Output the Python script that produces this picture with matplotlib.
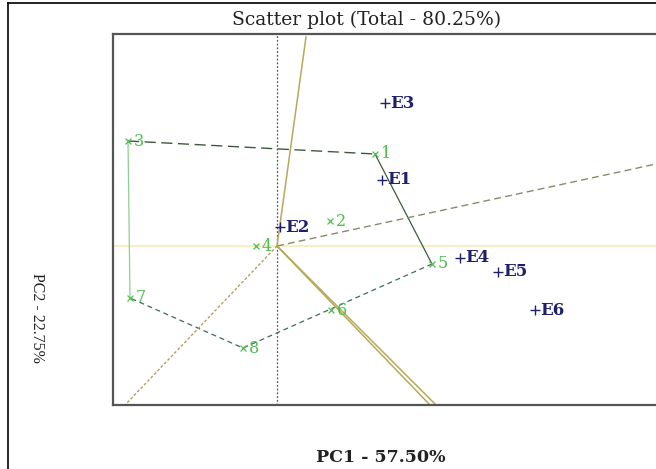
import matplotlib.pyplot as plt
from matplotlib.lines import Line2D

# genotype scores (PC1, PC2)
gen_labels = ['1', '2', '3', '4', '5', '6', '7', '8']
gen_pc1 = [1.96, 1.06, -2.98, -0.42, 3.10, 1.08, -2.94, -0.68]
gen_pc2 = [1.84, 0.50, 2.10, 0.00, -0.36, -1.28, -1.04, -2.04]

# environment scores
env_labels = ['E1', 'E2', 'E3', 'E4', 'E5', 'E6']
env_pc1 = [2.10, 0.06, 2.16, 3.66, 4.42, 5.16]
env_pc2 = [1.32, 0.38, 2.86, -0.24, -0.52, -1.28]

# polygon vertices (genotype order)
hull = ['3', '1', '5', '8', '7', '3']

# rays from the origin, end points
ray_x = [0.58, 7.58, 3.06, 3.18, -3.04]
ray_y = [4.18, 1.64, -3.18, -3.18, -3.18]

plt.rcParams['font.family'] = ['DejaVu Serif']

fig = plt.figure(figsize=(6.56, 4.69), dpi=100)
ax = fig.add_axes([113 / 656, 64 / 469, 1 - 113 / 656, 371 / 469])
ax.set_xlim(-3.28, 7.58)
ax.set_ylim(-3.18, 4.24)

# frame round the whole picture
fig.add_artist(Line2D([8 / 656, 8 / 656], [0, 1 - 3 / 469], color='black', lw=1.2))
fig.add_artist(Line2D([8 / 656, 1], [1 - 3 / 469, 1 - 3 / 469], color='black', lw=1.2))

ax.axhline(0, color='#f3f0c8', lw=1.5, zorder=1)
ax.axvline(0, color='#555555', lw=0.9, ls=(0, (1.5, 1.5)), zorder=1)

# polygon
idx = {g: i for i, g in enumerate(gen_labels)}
px = [gen_pc1[idx[g]] for g in hull]
py = [gen_pc2[idx[g]] for g in hull]
ax.plot(px[:2], py[:2], color='#3d5a3d', lw=1.0, ls=(0, (8, 4)), zorder=2)
ax.plot(px[1:3], py[1:3], color='#3d5a3d', lw=0.9, zorder=2)
ax.plot(px[2:5], py[2:5], color='#3d6a5a', lw=0.9, ls=(0, (4, 3)), zorder=2)
ax.plot(px[4:6], py[4:6], color='#8fd08f', lw=0.9, zorder=2)

# rays
ax.plot([0, ray_x[0]], [0, ray_y[0]], color='#b8a85a', lw=1.1, zorder=2)
ax.plot([0, ray_x[1]], [0, ray_y[1]], color='#8a8a6a', lw=1.0, ls=(0, (5, 3)), zorder=2)
ax.plot([0, ray_x[2]], [0, ray_y[2]], color='#b8a85a', lw=1.1, zorder=2)
ax.plot([0, ray_x[3]], [0, ray_y[3]], color='#b8a85a', lw=1.1, zorder=2)
ax.plot([0, ray_x[4]], [0, ray_y[4]], color='#b0a060', lw=1.0, ls=(0, (2, 1.5)), zorder=2)

# genotypes
ax.scatter(gen_pc1, gen_pc2, marker='x', s=18, color='#4cbf4c', linewidths=0.9, zorder=3)
for g, x, y in zip(gen_labels, gen_pc1, gen_pc2):
    ax.text(x + 0.12, y, g, color='#4cbf4c', fontsize=11.5, va='center', ha='left', zorder=3)

# environments
ax.scatter(env_pc1, env_pc2, marker='+', s=45, color='#1f1f6e', linewidths=1.0, zorder=4)
for e, x, y in zip(env_labels, env_pc1, env_pc2):
    ax.text(x + 0.1, y, e, color='#1f1f6e', fontsize=12, fontweight='bold',
            va='center', ha='left', zorder=4)

for side in ['left', 'top', 'bottom']:
    ax.spines[side].set_color('#555555')
    ax.spines[side].set_linewidth(1.6)
ax.spines['right'].set_visible(False)
ax.set_xticks([])
ax.set_yticks([])

fig.text(367 / 656, 1 - 20 / 469, 'Scatter plot (Total - 80.25%)', ha='center', va='center',
         fontsize=13.5, color='#222222')
fig.text(381 / 656, 1 - 457 / 469, 'PC1 - 57.50%', ha='center', va='center',
         fontsize=12.5, color='#222222', fontweight='bold')
fig.text(37 / 656, 1 - 318 / 469, 'PC2 - 22.75%', ha='center', va='center',
         fontsize=11.5, color='#222222', rotation=270, family='Liberation Serif')

fig.savefig('out.png', dpi=100)
